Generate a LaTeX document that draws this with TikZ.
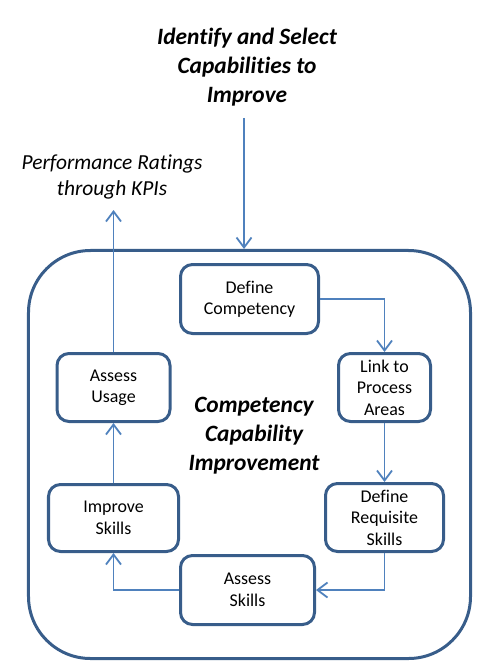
\documentclass[tikz,border=0pt]{standalone}
\usepackage{fontspec}
\setmainfont[Ligatures=NoCommon]{Carlito}
\usepackage{tikz}
\usetikzlibrary{arrows.meta,positioning}
\definecolor{frameblue}{HTML}{385D8A}
\definecolor{linkblue}{HTML}{4F81BD}

\begin{document}
\begin{tikzpicture}[
 x=1bp,y=-1bp,
 stage/.style={rounded corners=12bp,draw=frameblue,line width=3bp,align=center,fill=white,font=\fontsize{18}{21.5}\selectfont,inner sep=0pt},
 arrow/.style={draw=linkblue,line width=1.8bp,-{Straight Barb[length=10bp,width=15bp,line width=1.8bp]}},
 headline/.style={align=center,font=\fontsize{23.5}{29}\selectfont\bfseries\itshape}
]
\useasboundingbox (0,0) rectangle (481,672);
\node[draw=frameblue,line width=3bp,rounded corners=62bp,minimum width=442bp,minimum height=408bp,inner sep=0pt] (cycle) at (249.5,454.5) {};
\node[headline] (title) at (247,67) {Identify and Select\\Capabilities to\\Improve};
\node[align=center,font=\fontsize{21.5}{27}\selectfont\itshape] (perf) at (112,177) {Performance Ratings\\through KPIs};
\node[headline] (centre) at (254,436) {Competency\\Capability\\Improvement};
\node[stage,minimum width=138bp,minimum height=69bp] (define) at (249.5,299) {Define\\Competency};
\node[stage,minimum width=92bp,minimum height=68bp] (linkpa) at (384.5,387.5) {Link to\\Process\\Areas};
\node[stage,minimum width=118bp,minimum height=68bp] (requis) at (384.5,517.5) {Define\\Requisite\\Skills};
\node[stage,minimum width=134bp,minimum height=69bp] (assess) at (247.5,590) {Assess\\Skills};
\node[stage,minimum width=130bp,minimum height=67bp] (improve) at (113.5,518) {Improve\\Skills};
\node[stage,minimum width=113bp,minimum height=68bp] (usage) at (113.5,387.5) {Assess\\Usage};
\coordinate (intake) at (244,118);
\coordinate (kpi) at (113.5,210);
\draw[arrow] (intake) -- (intake |- cycle.north);
\draw[arrow] (define.east) -| (linkpa.north);
\draw[arrow] (linkpa.south) -- (requis.north);
\draw[arrow] (requis.south) |- (assess.east);
\draw[arrow] (assess.west) -| (improve.south);
\draw[arrow] (improve.north) -- (usage.south);
\draw[arrow] (usage.north) -- (kpi);
\end{tikzpicture}
\end{document}
